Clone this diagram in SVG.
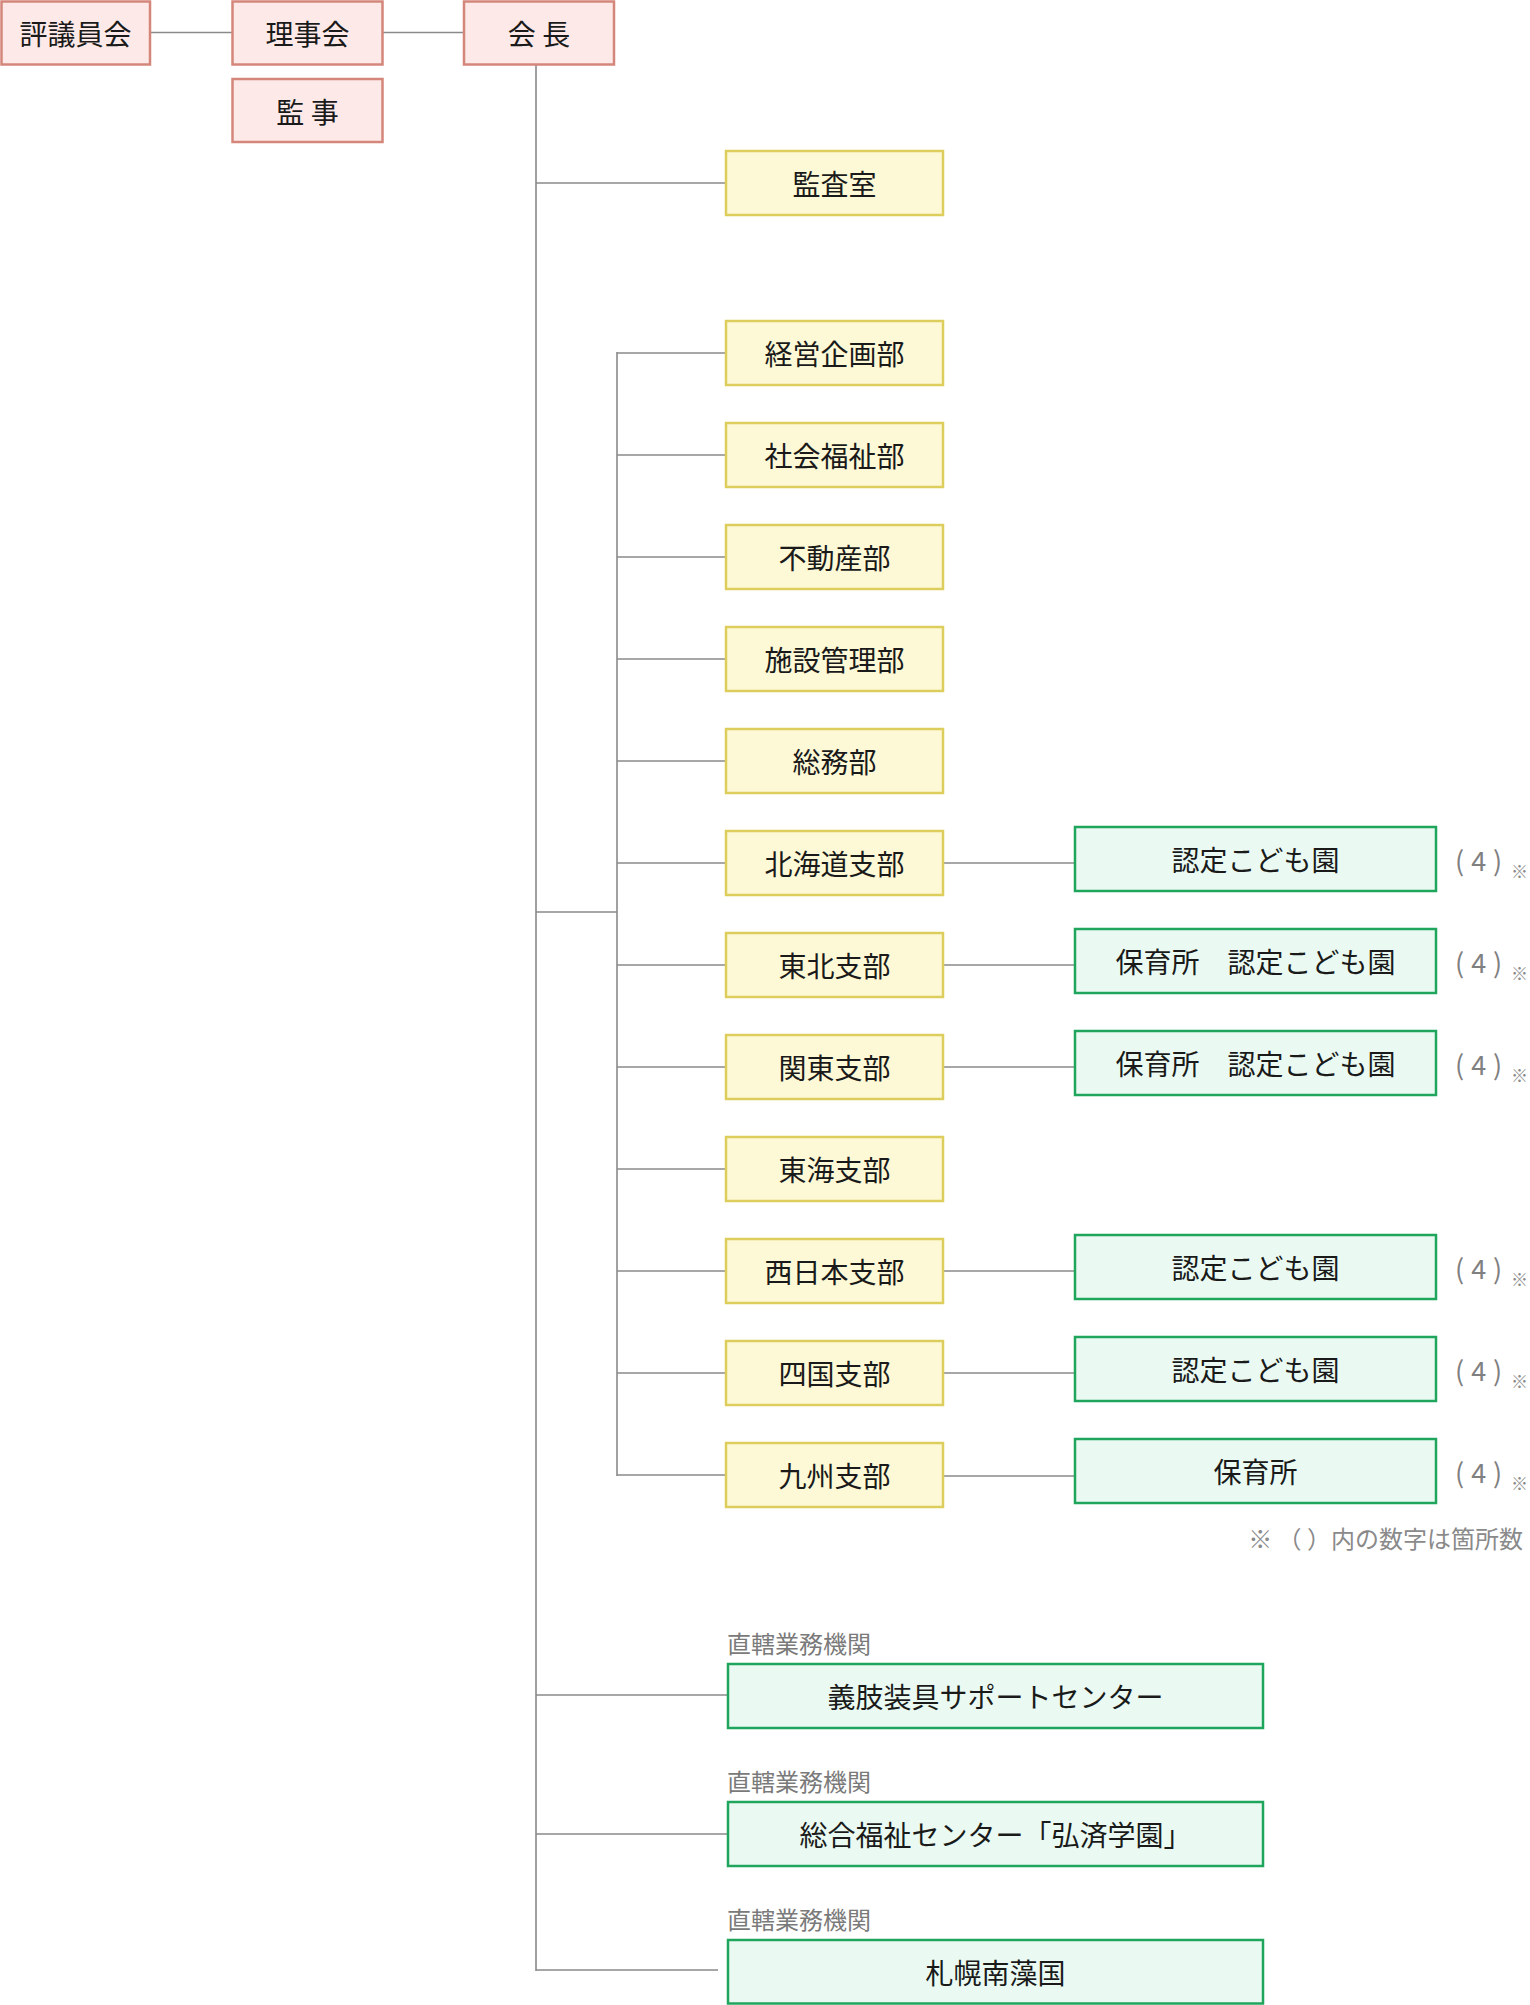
<svg xmlns="http://www.w3.org/2000/svg" width="1530" height="2005" viewBox="0 0 1530 2005">
<style>
text{font-family:"Noto Sans CJK JP","Noto Sans CJK SC",sans-serif;}
.t{font-size:28px;fill:#1a1a1a;text-anchor:middle;dominant-baseline:central;}
.pk{fill:#fdeae8;stroke:#d4867b;stroke-width:2.5;}
.yl{fill:#fdf9d6;stroke:#ddcd5c;stroke-width:2.5;}
.gr{fill:#eafaf2;stroke:#1fa55c;stroke-width:2.5;}
.ln{stroke:#8a8a8a;stroke-width:1.6;fill:none;}
.lm{stroke:#a0a0a0;stroke-width:2;fill:none;}
.cnt{font-size:27px;fill:#808080;letter-spacing:7px;dominant-baseline:central;}
.ast{font-size:17px;fill:#8a8a8a;dominant-baseline:central;}
.lbl{font-size:24px;fill:#7a7a7a;dominant-baseline:central;}
.note{font-size:24px;fill:#8a8a8a;text-anchor:end;dominant-baseline:central;}
</style>
<g id="connectors">
<line class="ln" x1="150" y1="32.5" x2="232" y2="32.5"/>
<line class="ln" x1="383" y1="32.5" x2="464" y2="32.5"/>
<line class="lm" x1="536" y1="65" x2="536" y2="1971"/>
<line class="ln" x1="536" y1="183" x2="726" y2="183"/>
<line class="ln" x1="536" y1="912" x2="617" y2="912"/>
<line class="ln" x1="617" y1="352" x2="617" y2="1476"/>
<line class="ln" x1="617" y1="353" x2="726" y2="353"/>
<line class="ln" x1="617" y1="455" x2="726" y2="455"/>
<line class="ln" x1="617" y1="557" x2="726" y2="557"/>
<line class="ln" x1="617" y1="659" x2="726" y2="659"/>
<line class="ln" x1="617" y1="761" x2="726" y2="761"/>
<line class="ln" x1="617" y1="863" x2="726" y2="863"/>
<line class="ln" x1="617" y1="965" x2="726" y2="965"/>
<line class="ln" x1="617" y1="1067" x2="726" y2="1067"/>
<line class="ln" x1="617" y1="1169" x2="726" y2="1169"/>
<line class="ln" x1="617" y1="1271" x2="726" y2="1271"/>
<line class="ln" x1="617" y1="1373" x2="726" y2="1373"/>
<line class="ln" x1="617" y1="1475" x2="726" y2="1475"/>
<line class="ln" x1="943" y1="863" x2="1075" y2="863"/>
<line class="ln" x1="943" y1="965" x2="1075" y2="965"/>
<line class="ln" x1="943" y1="1067" x2="1075" y2="1067"/>
<line class="ln" x1="943" y1="1271" x2="1075" y2="1271"/>
<line class="ln" x1="943" y1="1373" x2="1075" y2="1373"/>
<line class="ln" x1="943" y1="1476" x2="1075" y2="1476"/>
<line class="ln" x1="536" y1="1695" x2="728" y2="1695"/>
<line class="ln" x1="536" y1="1834" x2="728" y2="1834"/>
<line class="ln" x1="536" y1="1970" x2="718" y2="1970"/>
</g>
<g id="hyogiinkai"><rect class="pk" x="1.5" y="1.5" width="148.5" height="63"/><text class="t" x="75.5" y="33">評議員会</text></g>
<g id="rijikai"><rect class="pk" x="232.5" y="1.5" width="150" height="63"/><text class="t" x="307.5" y="33">理事会</text></g>
<g id="kanji"><rect class="pk" x="232.5" y="79" width="150" height="63"/><text class="t" x="307.5" y="111">監 事</text></g>
<g id="kaicho"><rect class="pk" x="464" y="1.5" width="150" height="63"/><text class="t" x="539" y="33">会 長</text></g>
<g id="kansashitsu"><rect class="yl" x="726" y="151" width="217" height="64"/><text class="t" x="834.5" y="183">監査室</text></g>
<g id="d1"><rect class="yl" x="726" y="321" width="217" height="64"/><text class="t" x="834.5" y="353">経営企画部</text></g>
<g id="d2"><rect class="yl" x="726" y="423" width="217" height="64"/><text class="t" x="834.5" y="455">社会福祉部</text></g>
<g id="d3"><rect class="yl" x="726" y="525" width="217" height="64"/><text class="t" x="834.5" y="557">不動産部</text></g>
<g id="d4"><rect class="yl" x="726" y="627" width="217" height="64"/><text class="t" x="834.5" y="659">施設管理部</text></g>
<g id="d5"><rect class="yl" x="726" y="729" width="217" height="64"/><text class="t" x="834.5" y="761">総務部</text></g>
<g id="d6"><rect class="yl" x="726" y="831" width="217" height="64"/><text class="t" x="834.5" y="863">北海道支部</text></g>
<g id="d7"><rect class="yl" x="726" y="933" width="217" height="64"/><text class="t" x="834.5" y="965">東北支部</text></g>
<g id="d8"><rect class="yl" x="726" y="1035" width="217" height="64"/><text class="t" x="834.5" y="1067">関東支部</text></g>
<g id="d9"><rect class="yl" x="726" y="1137" width="217" height="64"/><text class="t" x="834.5" y="1169">東海支部</text></g>
<g id="d10"><rect class="yl" x="726" y="1239" width="217" height="64"/><text class="t" x="834.5" y="1271">西日本支部</text></g>
<g id="d11"><rect class="yl" x="726" y="1341" width="217" height="64"/><text class="t" x="834.5" y="1373">四国支部</text></g>
<g id="d12"><rect class="yl" x="726" y="1443" width="217" height="64"/><text class="t" x="834.5" y="1475">九州支部</text></g>
<g id="g6"><rect class="gr" x="1075" y="827" width="361" height="64"/><text class="t" x="1255.5" y="859">認定こども園</text><text class="cnt" x="1455" y="859">(4)</text><text class="ast" x="1511" y="870">※</text></g>
<g id="g7"><rect class="gr" x="1075" y="929" width="361" height="64"/><text class="t" x="1255.5" y="961">保育所　認定こども園</text><text class="cnt" x="1455" y="961">(4)</text><text class="ast" x="1511" y="972">※</text></g>
<g id="g8"><rect class="gr" x="1075" y="1031" width="361" height="64"/><text class="t" x="1255.5" y="1063">保育所　認定こども園</text><text class="cnt" x="1455" y="1063">(4)</text><text class="ast" x="1511" y="1074">※</text></g>
<g id="g10"><rect class="gr" x="1075" y="1235" width="361" height="64"/><text class="t" x="1255.5" y="1267">認定こども園</text><text class="cnt" x="1455" y="1267">(4)</text><text class="ast" x="1511" y="1278">※</text></g>
<g id="g11"><rect class="gr" x="1075" y="1337" width="361" height="64"/><text class="t" x="1255.5" y="1369">認定こども園</text><text class="cnt" x="1455" y="1369">(4)</text><text class="ast" x="1511" y="1380">※</text></g>
<g id="g12"><rect class="gr" x="1075" y="1439" width="361" height="64"/><text class="t" x="1255.5" y="1471">保育所</text><text class="cnt" x="1455" y="1471">(4)</text><text class="ast" x="1511" y="1482">※</text></g>
<text class="note" x="1523" y="1537">※ （ ）内の数字は箇所数</text>
<g id="b1"><text class="lbl" x="727" y="1642">直轄業務機関</text><rect class="gr" x="728" y="1664" width="535" height="64"/><text class="t" x="995.5" y="1696">義肢装具サポートセンター</text></g>
<g id="b2"><text class="lbl" x="727" y="1780">直轄業務機関</text><rect class="gr" x="728" y="1802" width="535" height="64"/><text class="t" x="995.5" y="1834">総合福祉センター「弘済学園」</text></g>
<g id="b3"><text class="lbl" x="727" y="1918">直轄業務機関</text><rect class="gr" x="728" y="1940" width="535" height="63.5"/><text class="t" x="995.5" y="1972">札幌南藻国</text></g>
</svg>
